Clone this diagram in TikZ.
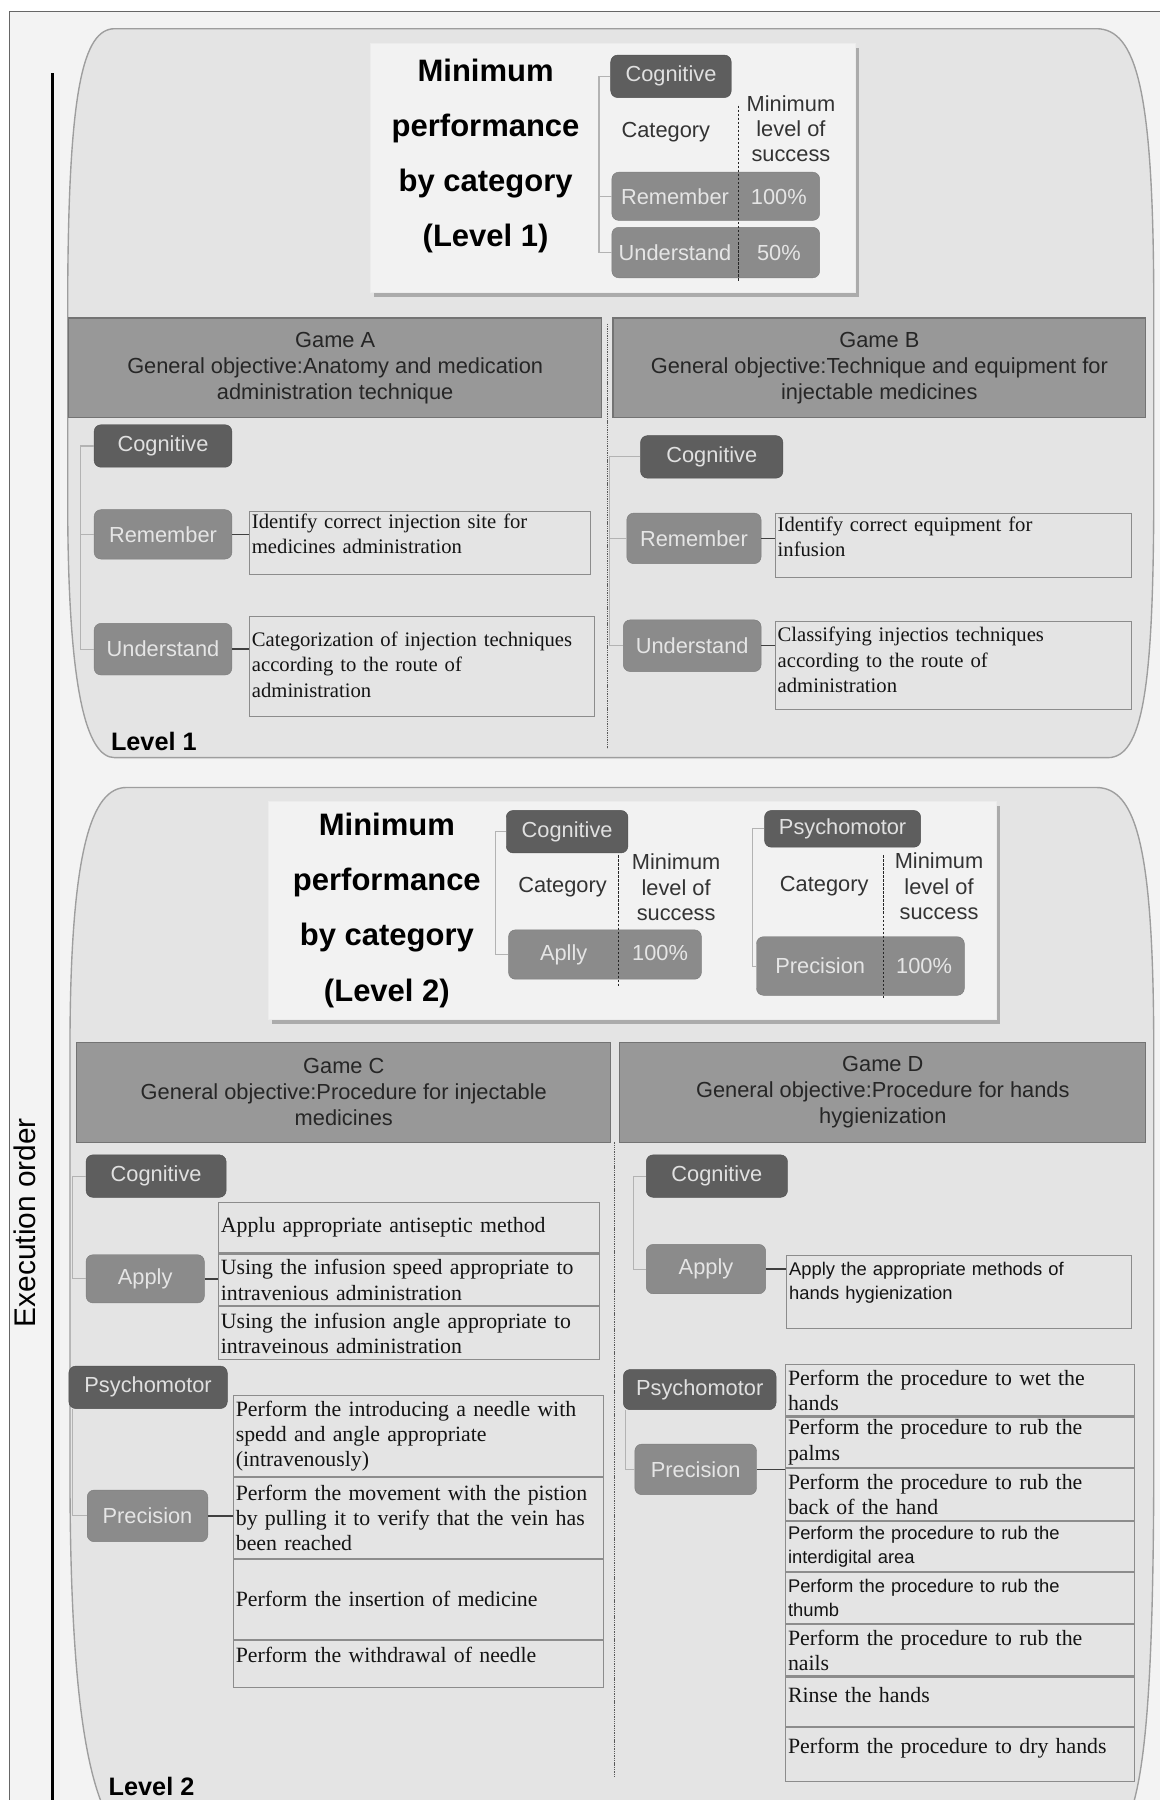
\documentclass[tikz,border=0pt]{standalone}
\usepackage{fontspec}
\setmainfont{Liberation Serif}
\setsansfont{Liberation Sans}
\usepackage{xcolor}
\usepackage{tikz}
\usetikzlibrary{shapes.geometric, arrows}
\usetikzlibrary{positioning,shadows}
\definecolor{bgframe}{HTML}{F3F3F3}
\definecolor{panelgray}{HTML}{E4E4E4}
\definecolor{darkbox}{HTML}{5E5E5E}
\definecolor{midbox}{HTML}{8B8B8B}
\definecolor{headgray}{HTML}{989898}
\definecolor{treegray}{HTML}{B3B3B3}
\newcommand{\padbelow}[1]{\par\vspace*{#1}}
\tikzstyle{panel} = [draw=black!38, line width=1.2pt, fill=panelgray]
\tikzstyle{titlebox} = [rectangle, draw=gray!15, fill=gray!10, line width=1pt, drop shadow={shadow xshift=3pt, shadow yshift=-4pt, fill=black!55}]
\tikzstyle{gamehead} = [rectangle, draw=black!55, line width=1pt, fill=headgray, minimum height=87pt, text centered, align=center, text=black!85, inner sep=0pt, font=\sffamily\fontsize{19}{22.5}\selectfont]
\tikzstyle{darkcat} = [rectangle, rounded corners=6pt, fill=darkbox, draw=darkbox!85!black, text=white!88!black, minimum height=37pt, inner sep=0pt, font=\sffamily\fontsize{19}{22}\selectfont]
\tikzstyle{midcat} = [rectangle, rounded corners=6pt, fill=midbox, draw=midbox!90!black, text=white!90!black, minimum height=43pt, inner sep=0pt, font=\sffamily\fontsize{19}{22}\selectfont]
\tikzstyle{descbox} = [rectangle, draw=black!45, line width=0.9pt, anchor=north west, align=left, inner xsep=2pt, inner ysep=0pt, text=black!92, font=\fontsize{18}{22}\selectfont]
\tikzstyle{plainlabel} = [align=center, text=black!80, font=\sffamily\fontsize{19}{22}\selectfont]
\tikzstyle{treeline} = [draw=treegray, line width=0.9pt]
\tikzstyle{catlink} = [draw=black!75, line width=1.2pt]
\tikzstyle{divider} = [draw=black!65, line width=1pt, dash pattern=on 1.2pt off 0.8pt]
\tikzstyle{cutline} = [draw=black!85, line width=0.9pt, dash pattern=on 2pt off 1.5pt]

\begin{document}
\begin{tikzpicture}[x=1pt, y=-1pt]
	\useasboundingbox (0,0) rectangle (1010,1568);
	\coordinate (ordertop) at (46,64);
	\coordinate (orderbot) at (46,1570);
	\coordinate (divAB1) at (529,282);
	\coordinate (divAB2) at (529,652);
	\coordinate (divCD1) at (535,995);
	\coordinate (divCD2) at (535,1548);
	% frame and execution order
	\draw[draw=black!60, fill=bgframe, line width=1pt] (8,10) rectangle (1030,1590);
	\draw[line width=2.6pt] (ordertop) -- (orderbot);
	\node[name=execorder, rotate=90, font=\sffamily\fontsize{26}{26}\selectfont] at (22,1065) {Execution order};
	% level panels
	\draw[panel] (100,25) -- (955,25) .. controls (990,25) and (1004,80) .. (1005,250) -- (1005,450) .. controls (1004,600) and (995,660) .. (965,660) -- (100,660) .. controls (75,660) and (60,600) .. (59,450) -- (59,250) .. controls (60,80) and (72,25) .. (100,25) -- cycle;
	\draw[panel] (110,686) -- (955,686) .. controls (990,686) and (1004,740) .. (1005,900) -- (1005,1300) .. controls (1004,1500) and (995,1570) .. (975,1600) -- (105,1600) .. controls (80,1570) and (62,1500) .. (61,1300) -- (61,900) .. controls (62,740) and (80,686) .. (110,686) -- cycle;
	\node[name=lvl1, font=\sffamily\bfseries\fontsize{22}{22}\selectfont] at (134,646) {Level 1};
	\node[name=lvl2, font=\sffamily\bfseries\fontsize{22}{22}\selectfont] at (132,1556) {Level 2};
	% minimum performance boxes
	\node[name=tbox1, titlebox, minimum width=422, minimum height=217] at (534,146.5) {};
	\node[name=tbox2, titlebox, minimum width=634, minimum height=190] at (551,793) {};
	\begin{scope}[every node/.style={align=center, font=\sffamily\bfseries\fontsize{27}{48}\selectfont}]
	\node[name=ttl1] at (423,136) {Minimum\\performance\\by category\\(Level 1)};
	\node[name=ttl2] at (337,793) {Minimum\\performance\\by category\\(Level 2)};
	\end{scope}
	\node[name=cogT1, darkcat, minimum width=105] at (584.5,66.5) {Cognitive};
	\node[name=catT1, plainlabel] at (580,115) {Category};
	\node[name=mlsT1, plainlabel] at (689,112) {Minimum\\level of\\success};
	\node[name=remT1, midcat, minimum width=181, minimum height=42] at (623.5,171) {\makebox[110pt]{Remember}\makebox[71pt]{100\%}};
	\node[name=undT1, midcat, minimum width=181, minimum height=44] at (623.5,220) {\makebox[110pt]{Understand}\makebox[71pt]{50\%}};
	\draw[cutline] (643,92) -- (643,246);
	\draw[treeline] (cogT1.west) -- ++(-10,0) |- (remT1.west);
	\draw[treeline] ([xshift=-10pt]cogT1.west) |- (undT1.west);
	\node[name=cogT2, darkcat, minimum width=106] at (494,724.5) {Cognitive};
	\node[name=catT2, plainlabel] at (490,773) {Category};
	\node[name=mlsT2, plainlabel] at (589,773) {Minimum\\level of\\success};
	\node[name=aplT2, midcat, minimum width=168] at (527,831.5) {\makebox[96pt]{Aplly}\makebox[72pt]{100\%}};
	\draw[cutline] (539,745) -- (539,860);
	\draw[treeline] (cogT2.west) -- ++(-9,0) |- (aplT2.west);
	\node[name=psyT2, darkcat, minimum width=136, minimum height=32] at (734,722) {Psychomotor};
	\node[name=catT2b, plainlabel] at (718,772) {Category};
	\node[name=mlsT2b, plainlabel] at (818,772) {Minimum\\level of\\success};
	\node[name=preT2, midcat, minimum width=181, minimum height=51] at (749.5,841.5) {\makebox[111pt]{Precision}\makebox[70pt]{100\%}};
	\draw[cutline] (770,745) -- (770,870);
	\draw[treeline] (psyT2.west) -- ++(-10,0) |- (preT2.west);
	% game headers
	\node[name=hdA, gamehead, minimum width=464] at (292,320.5) {Game A\\General objective:Anatomy and medication\\administration technique};
	\node[name=hdB, gamehead, minimum width=464] at (766,320.5) {Game B\\General objective:Technique and equipment for\\injectable medicines};
	\node[name=hdC, gamehead, minimum width=465] at (299.5,951.5) {Game C\\General objective:Procedure for injectable\\medicines};
	\node[name=hdD, gamehead, minimum width=458] at (769,951.5) {Game D\\General objective:Procedure for hands\\hygienization};
	\draw[divider] (divAB1) -- (divAB2);
	\draw[divider] (divCD1) -- (divCD2);
	% Game A
	\node[name=cogA, darkcat, minimum width=120] at (142,388.5) {Cognitive};
	\node[name=remA, midcat, minimum width=120] at (142,465.5) {Remember};
	\node[name=undA, midcat, minimum width=120, minimum height=45] at (142,565.5) {Understand};
	\node[name=descRemA, descbox, text width=293, minimum height=55] at (217,445) {Identify correct injection site for\\medicines administration\padbelow{16pt}};
	\node[name=descUndA, descbox, text width=296, minimum height=87] at (217,537) {Categorization of injection techniques\\according to the route of\\administration\padbelow{4pt}};
	\draw[treeline] (cogA.west) -- ++(-12,0) |- (remA.west);
	\draw[treeline] ([xshift=-12pt]cogA.west) |- (undA.west);
	\draw[catlink] (remA.east) -- (remA.east -| descRemA.west);
	\draw[catlink] (undA.east) -- (undA.east -| descUndA.west);
	% Game B
	\coordinate (trB) at (531,398);
	\node[name=cogB, darkcat, minimum width=124] at (620,398) {Cognitive};
	\node[name=remB, midcat, minimum width=117, minimum height=44] at (604.5,469) {Remember};
	\node[name=undB, midcat, minimum width=120, minimum height=45] at (603,562.5) {Understand};
	\node[name=descRemB, descbox, text width=306, minimum height=56] at (675,447) {Identify correct equipment for\\infusion\padbelow{16pt}};
	\node[name=descUndB, descbox, text width=306, minimum height=77] at (675,541) {Classifying injectios techniques\\according to the route of\\administration\padbelow{10pt}};
	\draw[treeline] (cogB.west) -- (trB) |- (remB.west);
	\draw[treeline] (trB) |- (undB.west);
	\draw[catlink] (remB.east) -- (remB.east -| descRemB.west);
	\draw[catlink] (undB.east) -- (undB.east -| descUndB.west);
	% Game C
	\node[name=cogC, darkcat, minimum width=122] at (136,1024.5) {Cognitive};
	\node[name=appC, midcat, minimum width=103, minimum height=42] at (126.5,1114) {Apply};
	\begin{scope}[every node/.style={descbox, text width=328, font=\fontsize{19}{22}\selectfont}]
	\node[name=cApp1, minimum height=44] at (190,1047) {Applu appropriate antiseptic method};
	\node[name=cApp2, minimum height=45] at (cApp1.south west) {Using the infusion speed appropriate to\\intravenious administration};
	\node[name=cApp3, minimum height=46] at (cApp2.south west) {Using the infusion angle appropriate to\\intraveinous administration};
	\end{scope}
	\node[name=psyC, darkcat, minimum width=138] at (129,1208.5) {Psychomotor};
	\node[name=preC, midcat, minimum width=105, minimum height=45] at (128.5,1320.5) {Precision};
	\begin{scope}[every node/.style={descbox, text width=318, font=\fontsize{19}{22}\selectfont}]
	\node[name=cPre1, minimum height=71] at (203,1215) {Perform the introducing a needle with\\spedd and angle appropriate\\(intravenously)};
	\node[name=cPre2, minimum height=70] at (cPre1.south west) {Perform the movement with the pistion\\by pulling it to verify that the vein has\\been reached};
	\node[name=cPre3, minimum height=70] at (cPre2.south west) {Perform the insertion of medicine};
	\node[name=cPre4, minimum height=41] at (cPre3.south west) {Perform the withdrawal of needle\padbelow{16pt}};
	\end{scope}
	\draw[treeline] (cogC.west) -- ++(-12,0) |- (appC.west);
	\draw[treeline] ([xshift=3pt]psyC.south west) |- (preC.west);
	\draw[catlink] (appC.east) -- (appC.east -| cApp2.west);
	\draw[catlink] (preC.east) -- (preC.east -| cPre2.west);
	% Game D
	\node[name=cogD, darkcat, minimum width=123] at (624.5,1024.5) {Cognitive};
	\node[name=appD, midcat, minimum width=104] at (615,1105.5) {Apply};
	\node[name=dApp, descbox, text width=296, minimum height=64, font=\sffamily\fontsize{16}{21}\selectfont] at (685,1093) {Apply the appropriate methods of\\hands hygienization\padbelow{16pt}};
	\node[name=psyD, darkcat, minimum width=133, minimum height=35] at (609.5,1210.5) {Psychomotor};
	\node[name=preD, midcat, minimum width=106, minimum height=44] at (606,1280) {Precision};
	\begin{scope}[every node/.style={descbox, text width=300, font=\fontsize{19}{22}\selectfont}]
	\node[name=dPre1, minimum height=45] at (684,1188) {Perform the procedure to wet the\\hands};
	\node[name=dPre2, minimum height=44] at (dPre1.south west) {Perform the procedure to rub the\\palms};
	\node[name=dPre3, minimum height=45] at (dPre2.south west) {Perform the procedure to rub the\\back of the hand};
	\node[name=dPre4, minimum height=44, font=\sffamily\fontsize{16}{21}\selectfont] at (dPre3.south west) {Perform the procedure to rub the\\interdigital area};
	\node[name=dPre5, minimum height=44, font=\sffamily\fontsize{16}{21}\selectfont] at (dPre4.south west) {Perform the procedure to rub the\\thumb};
	\node[name=dPre6, minimum height=45] at (dPre5.south west) {Perform the procedure to rub the\\nails};
	\node[name=dPre7, minimum height=43] at (dPre6.south west) {Rinse the hands\padbelow{12pt}};
	\node[name=dPre8, minimum height=47] at (dPre7.south west) {Perform the procedure to dry hands\padbelow{10pt}};
	\end{scope}
	\draw[treeline] (cogD.west) -- ++(-11,0) |- (appD.west);
	\draw[treeline] ([xshift=2pt]psyD.south west) |- (preD.west);
	\draw[catlink] (appD.east) -- (appD.east -| dApp.west);
	\draw[catlink] (preD.east) -- (preD.east -| dPre3.west);
\end{tikzpicture}
\end{document}
